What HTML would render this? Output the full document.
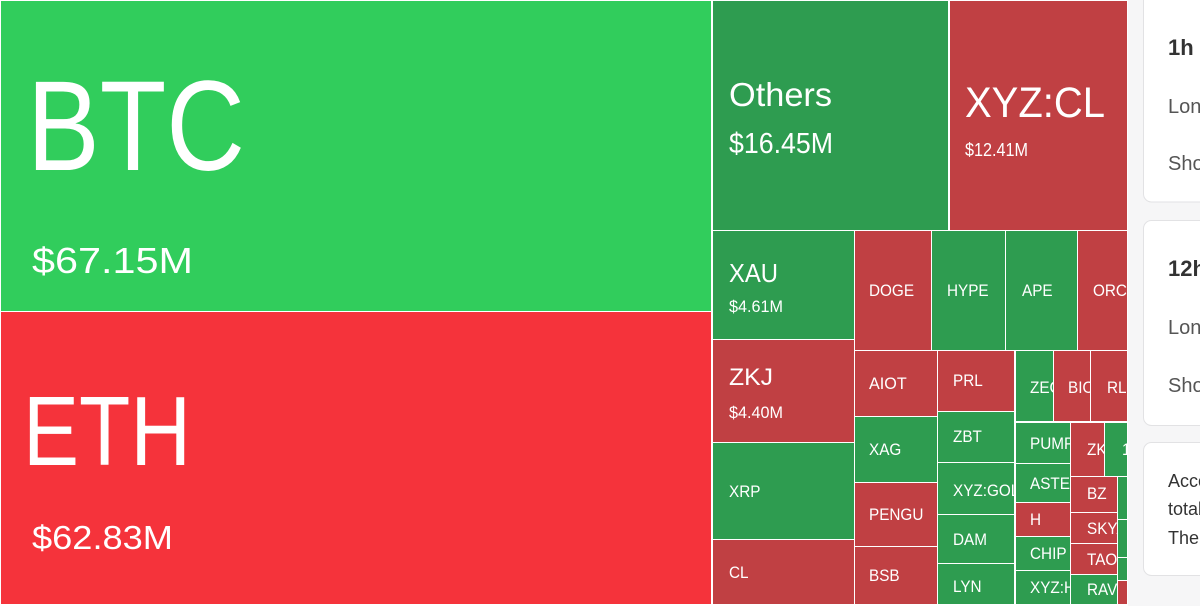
<!DOCTYPE html>
<html><head><meta charset="utf-8"><style>
html,body{margin:0;padding:0;background:#fff;}
svg{display:block;}
text{font-family:"Liberation Sans",sans-serif;}
</style></head><body>
<svg width="1200" height="606" viewBox="0 0 1200 606" xmlns="http://www.w3.org/2000/svg">
<rect x="0" y="0" width="1200" height="606" fill="#fff"/>
<!-- right panel bg -->
<rect x="1128" y="0" width="72" height="606" fill="#f6f6f7"/>
<rect x="1143.5" y="-8" width="80" height="210" rx="8" fill="#fff" stroke="#e2e2e4"/>
<rect x="1143.5" y="220.5" width="80" height="205" rx="8" fill="#fff" stroke="#e2e2e4"/>
<rect x="1143.5" y="442.5" width="80" height="133" rx="8" fill="#fff" stroke="#e2e2e4"/>
<g fill="#333">
<text x="1168" y="55" font-size="22" font-weight="bold">1h</text>
<text x="1168" y="113" font-size="20" fill="#555">Long</text>
<text x="1168" y="170" font-size="20" fill="#555">Short</text>
<text x="1168" y="276" font-size="22" font-weight="bold">12h</text>
<text x="1168" y="334" font-size="20" fill="#555">Long</text>
<text x="1168" y="392" font-size="20" fill="#555">Short</text>
<text x="1168" y="487" font-size="18">According</text>
<text x="1168" y="515" font-size="18">total</text>
<text x="1168" y="544" font-size="18">The</text>
</g>

<!-- treemap -->
<rect x="0" y="0" width="1128" height="606" fill="#fff"/>
<rect x="1" y="1" width="710" height="310" fill="#31cd5c"/>
<rect x="1" y="312" width="710" height="292" fill="#f5333b"/>

<g fill="#fff">
<text x="27" y="170" font-size="128" textLength="218" lengthAdjust="spacingAndGlyphs">BTC</text>
<text x="32" y="273" font-size="36" textLength="161" lengthAdjust="spacingAndGlyphs">$67.15M</text>
<text x="23" y="465" font-size="98" textLength="168" lengthAdjust="spacingAndGlyphs">ETH</text>
<text x="32" y="549" font-size="33" textLength="141" lengthAdjust="spacingAndGlyphs">$62.83M</text>
</g>

<g>
<!-- large right cells -->
<rect x="713" y="1" width="235" height="229" fill="#2e9c50"/>
<rect x="950" y="1" width="177" height="229" fill="#c04043"/>
<rect x="713" y="231" width="141" height="108" fill="#2e9c50"/>
<rect x="855" y="231" width="76" height="119" fill="#c04043"/>
<rect x="932" y="231" width="73" height="119" fill="#2e9c50"/>
<rect x="1006" y="231" width="71" height="119" fill="#2e9c50"/>
<rect x="1078" y="231" width="49" height="119" fill="#c04043"/>
<rect x="713" y="340" width="141" height="102" fill="#c04043"/>
<rect x="713" y="443" width="141" height="96" fill="#2e9c50"/>
<rect x="713" y="540" width="141" height="64" fill="#c04043"/>
<rect x="855" y="351" width="82" height="65" fill="#c04043"/>
<rect x="855" y="417" width="82" height="65" fill="#2e9c50"/>
<rect x="855" y="483" width="82" height="63" fill="#c04043"/>
<rect x="855" y="547" width="82" height="57" fill="#c04043"/>
<rect x="938" y="351" width="76" height="60" fill="#c04043"/>
<rect x="938" y="412" width="76" height="50" fill="#2e9c50"/>
<rect x="938" y="463" width="76" height="51" fill="#2e9c50"/>
<rect x="938" y="515" width="76" height="48" fill="#2e9c50"/>
<rect x="938" y="564" width="76" height="40" fill="#2e9c50"/>
<rect x="1016" y="351" width="37" height="70" fill="#2e9c50"/>
<rect x="1054" y="351" width="36" height="70" fill="#c04043"/>
<rect x="1091" y="351" width="36" height="70" fill="#c04043"/>
<rect x="1016" y="423" width="54" height="40" fill="#2e9c50"/>
<rect x="1016" y="464" width="54" height="38" fill="#2e9c50"/>
<rect x="1016" y="503" width="54" height="33" fill="#c04043"/>
<rect x="1016" y="537" width="54" height="33" fill="#2e9c50"/>
<rect x="1016" y="571" width="54" height="33" fill="#2e9c50"/>
<rect x="1071" y="423" width="33" height="53" fill="#c04043"/>
<rect x="1105" y="423" width="22" height="53" fill="#2e9c50"/>
<rect x="1071" y="477" width="46" height="35" fill="#c04043"/>
<rect x="1071" y="513" width="46" height="30" fill="#c04043"/>
<rect x="1071" y="544" width="46" height="30" fill="#c04043"/>
<rect x="1071" y="575" width="46" height="29" fill="#2e9c50"/>
<rect x="1118" y="477" width="9" height="42" fill="#2e9c50"/>
<rect x="1118" y="520" width="9" height="37" fill="#2e9c50"/>
<rect x="1118" y="558" width="9" height="22" fill="#2e9c50"/>
<rect x="1118" y="581" width="9" height="23" fill="#c04043"/>
</g>

<g fill="#fff">
<text x="729" y="106" font-size="33" textLength="103" lengthAdjust="spacingAndGlyphs">Others</text>
<text x="729" y="153" font-size="29" textLength="104" lengthAdjust="spacingAndGlyphs">$16.45M</text>
<text x="965" y="117" font-size="43" textLength="140" lengthAdjust="spacingAndGlyphs">XYZ:CL</text>
<text x="965" y="156" font-size="18" textLength="63" lengthAdjust="spacingAndGlyphs">$12.41M</text>
<text x="729" y="282" font-size="26" textLength="49" lengthAdjust="spacingAndGlyphs">XAU</text>
<text x="729" y="312" font-size="17" textLength="54" lengthAdjust="spacingAndGlyphs">$4.61M</text>
<text x="729" y="385" font-size="24" textLength="44" lengthAdjust="spacingAndGlyphs">ZKJ</text>
<text x="729" y="418" font-size="17" textLength="54" lengthAdjust="spacingAndGlyphs">$4.40M</text>
</g>

<g fill="#fff" font-size="17">
<text transform="translate(869 296) scale(.9 1)">DOGE</text>
<text transform="translate(947 296) scale(.9 1)">HYPE</text>
<text transform="translate(1022 296) scale(.9 1)">APE</text>
<svg x="1078" y="231" width="49" height="119" viewBox="1078 231 49 119"><text transform="translate(1093 296) scale(.9 1)">ORCA</text></svg>
<text transform="translate(869 389) scale(.95 1)">AIOT</text>
<text transform="translate(953 386) scale(.9 1)">PRL</text>
<svg x="1016" y="351" width="37" height="70" viewBox="1016 351 37 70"><text transform="translate(1030 393) scale(.9 1)">ZEC</text></svg>
<svg x="1054" y="351" width="36" height="70" viewBox="1054 351 36 70"><text transform="translate(1068 393) scale(.9 1)">BIO</text></svg>
<svg x="1091" y="351" width="36" height="70" viewBox="1091 351 36 70"><text transform="translate(1107 393) scale(.9 1)">RLS</text></svg>
<text transform="translate(729 497) scale(.9 1)">XRP</text>
<text transform="translate(869 455) scale(.9 1)">XAG</text>
<text transform="translate(953 442) scale(.9 1)">ZBT</text>
<svg x="1016" y="423" width="54" height="40" viewBox="1016 423 54 40"><text transform="translate(1030 449) scale(.9 1)">PUMP</text></svg>
<svg x="1071" y="423" width="33" height="53" viewBox="1071 423 33 53"><text transform="translate(1087 455) scale(.9 1)">ZKC</text></svg>
<svg x="1105" y="423" width="22" height="53" viewBox="1105 423 22 53"><text transform="translate(1122 455) scale(.9 1)">1000</text></svg>
<svg x="938" y="463" width="76" height="51" viewBox="938 463 76 51"><text transform="translate(953 496) scale(.9 1)">XYZ:GOLD</text></svg>
<svg x="1016" y="464" width="54" height="38" viewBox="1016 464 54 38"><text transform="translate(1030 489) scale(.9 1)">ASTER</text></svg>
<text transform="translate(1087 499) scale(.9 1)">BZ</text>
<text transform="translate(869 520) scale(.9 1)">PENGU</text>
<text transform="translate(1030 525) scale(.9 1)">H</text>
<svg x="1071" y="513" width="46" height="30" viewBox="1071 513 46 30"><text transform="translate(1087 534) scale(.9 1)">SKYAI</text></svg>
<text transform="translate(953 545) scale(.9 1)">DAM</text>
<svg x="1016" y="537" width="54" height="33" viewBox="1016 537 54 33"><text transform="translate(1030 559) scale(.9 1)">CHIP</text></svg>
<svg x="1071" y="544" width="46" height="30" viewBox="1071 544 46 30"><text transform="translate(1087 565) scale(.9 1)">TAO</text></svg>
<text transform="translate(729 578) scale(.9 1)">CL</text>
<text transform="translate(869 581) scale(.9 1)">BSB</text>
<text transform="translate(953 592) scale(.9 1)">LYN</text>
<svg x="1016" y="571" width="54" height="33" viewBox="1016 571 54 33"><text transform="translate(1030 593) scale(.9 1)">XYZ:HOOD</text></svg>
<svg x="1071" y="575" width="46" height="29" viewBox="1071 575 46 29"><text transform="translate(1087 595) scale(.9 1)">RAVE</text></svg>
</g>
</svg>
</body></html>
